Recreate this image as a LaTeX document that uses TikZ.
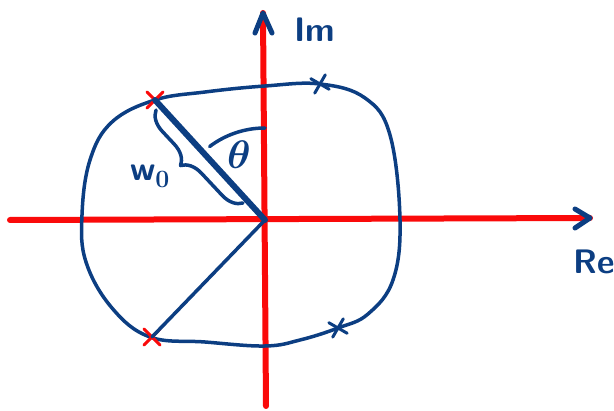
\documentclass[tikz,border=0pt]{standalone}
\usetikzlibrary{shapes.misc,decorations.pathreplacing}
\begin{document}
\begin{tikzpicture}[x=1pt,y=-1pt,line cap=round,line join=round,
  axis/.style={line width=6pt,draw=axisred},
  pen/.style={line width=3.5pt,draw=penblue},
  heavy/.style={line width=6pt,draw=penblue},
  redmark/.style={cross out,draw=axisred,line width=3pt,minimum size=13pt,inner sep=0pt},
  bluemark/.style={cross out,draw=penblue,line width=3pt,minimum size=12pt,inner sep=0pt,rotate=15},
  hand/.style={text=penblue,font=\fontsize{34}{34}\selectfont\sffamily\bfseries\boldmath}]
  \definecolor{axisred}{RGB}{250,10,10}
  \definecolor{penblue}{RGB}{12,62,130}
  \useasboundingbox (0,0) rectangle (614,411);

  % axes
  \coordinate (O) at (265,220);
  \coordinate (xl) at (10,220);
  \coordinate (xr) at (590,218);
  \coordinate (yb) at (266,406);
  \coordinate (yt) at (263,13);
  \draw[axis] (xl) -- (xr);
  \draw[axis] (yb) -- (yt);
  \draw[pen,line width=5pt] (xr) ++(-15,-9) -- (xr) -- ++(-15,10);
  \draw[pen,line width=5pt] (yt) ++(-8,20) -- (yt) -- ++(9,20);
  \node[hand] (im) at (315,30) {Im};
  \node[hand] (re) at (594,262) {Re};

  % the loop
  \draw[pen] plot[smooth cycle,tension=0.65] coordinates {
    (155,100) (205,92) (265,86) (320,84) (365,98) (390,135) (400,220)
    (393,280) (368,314) (338,328) (300,340) (265,346) (205,342) (150,337)
    (112,308) (86,262) (82,215) (90,160) (112,122)};

  % marks
  \node[redmark] (pa) at (155,100) {};
  \node[redmark] (pb) at (152,337) {};
  \node[bluemark] (qa) at (320,84) {};
  \node[bluemark] (qb) at (338,328) {};

  % radii
  \draw[heavy] (O) -- (pa.center);
  \draw[pen] (O) -- (pb.center);

  % angle and length
  \draw[pen] (O) ++(0,-92) arc[start angle=-90,end angle=-127,radius=92];
  \node[hand] (theta) at (239,155) {\scalebox{1.6}{$\theta$}};
  \coordinate (bs) at (243,203);
  \coordinate (be) at (156,110);
  \draw[pen,decorate,decoration={brace,amplitude=20pt,aspect=0.55}] (bs) -- (be);
  \node[hand] (w) at (150,176) {w$_0$};
\end{tikzpicture}
\end{document}
